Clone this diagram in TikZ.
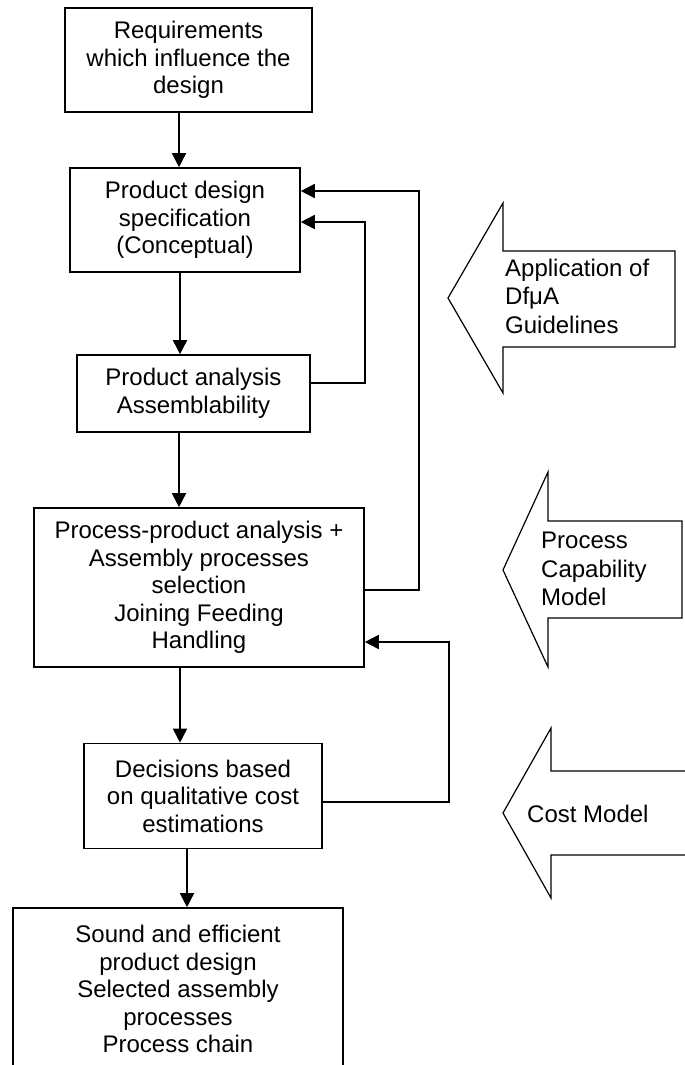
\documentclass[tikz,border=0pt]{standalone}
\usepackage{fontspec}
\setmainfont{Liberation Sans}
\usetikzlibrary{arrows.meta}

\begin{document}
\begin{tikzpicture}[x=1pt,y=-1pt,
    box/.style={draw,line width=1.6pt,align=center,inner sep=0,
      font=\fontsize{24}{27.5}\selectfont},
    feed/.style={line width=1.6pt,-{Triangle[width=14pt,length=14pt]}},
    bigarrow/.style={draw,line width=1.2pt,line join=miter},
    arrowtext/.style={align=left,anchor=west,inner sep=0,
      font=\fontsize{24}{28.5}\selectfont}]
    \useasboundingbox (0,0) rectangle (685,1065);
    \clip (0,0) rectangle (685,1065);
    % main chain
    \node[box,minimum width=247,minimum height=104] (req) at (188.5,60)
      {Requirements\\which influence the\\design};
    \node[box,minimum width=230,minimum height=104] (pds) at (185,220)
      {Product design\\specification\\(Conceptual)};
    \node[box,minimum width=233,minimum height=77] (pa) at (193.5,393.5)
      {Product analysis\\Assemblability};
    \node[box,minimum width=330,minimum height=159] (ppa) at (199,587.5)
      {Process-product analysis +\\Assembly processes\\selection\\Joining Feeding\\Handling};
    \node[box,minimum width=238,minimum height=105] (dec) at (203,796)
      {Decisions based\\on qualitative cost\\estimations};
    \node[box,minimum width=330,minimum height=162] (out) at (178,989)
      {Sound and efficient\\product design\\Selected assembly\\processes\\Process chain};
    \draw[feed] (179,0 |- req.south) -- (179,0 |- pds.north);
    \draw[feed] (180,0 |- pds.south) -- (180,0 |- pa.north);
    \draw[feed] (179,0 |- pa.south) -- (179,0 |- ppa.north);
    \draw[feed] (180,0 |- ppa.south) -- (180,0 |- dec.north);
    \draw[feed] (187,0 |- dec.south) -- (187,0 |- out.north);
    % feedback loops
    \draw[feed] ([yshift=10.5pt]pa.east) -- ++(54,0) |- ([yshift=-2pt]pds.east);
    \draw[feed] ([yshift=-2.5pt]ppa.east) -- ++(54,0) |- ([yshift=29pt]pds.east);
    \draw[feed] ([yshift=-6pt]dec.east) -- ++(126,0) |- ([yshift=-54.5pt]ppa.east);
    % input arrows
    \draw[bigarrow] (448,298) -- (503,203) -- (503,251) -- (675,251) -- (675,347)
      -- (503,347) -- (503,393) -- cycle;
    \node[arrowtext] (dfma) at (505,296) {Application of\\DfμA\\Guidelines};
    \draw[bigarrow] (503,570) -- (548,472) -- (548,521) -- (682,521) -- (682,618)
      -- (548,618) -- (548,667) -- cycle;
    \node[arrowtext] (pcm) at (541,569) {Process\\Capability\\Model};
    \draw[bigarrow] (503,813) -- (551,728) -- (551,771) -- (700,771) -- (700,855)
      -- (551,855) -- (551,898) -- cycle;
    \node[arrowtext] (cost) at (527,814) {Cost Model};
\end{tikzpicture}
\end{document}
